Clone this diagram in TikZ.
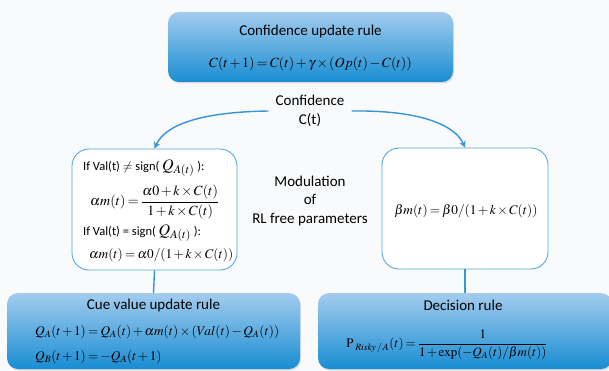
\documentclass[tikz,border=0pt]{standalone}
\usepackage{amsmath}
\usepackage{mathptmx}
\usepackage[no-math]{fontspec}
\setmainfont{Carlito}
\usetikzlibrary{arrows.meta,shadows}
\definecolor{bg}{RGB}{249,250,252}
\definecolor{btop}{RGB}{163,204,238}
\definecolor{bbot}{RGB}{24,141,211}
\definecolor{edge}{RGB}{86,168,222}
\definecolor{arr}{RGB}{52,150,213}
\medmuskip=2mu plus 1mu minus 1mu
\thickmuskip=3mu plus 1mu
\begin{document}
\begin{tikzpicture}[x=1pt,y=-1pt,
  bluebox/.style={rounded corners=11pt, top color=btop, bottom color=bbot, draw=none,
    drop shadow={opacity=0.25, shadow xshift=1pt, shadow yshift=-1.5pt}},
  whitebox/.style={rounded corners=17pt, fill=white, draw=edge, line width=0.9pt},
  title/.style={font=\fontsize{15}{18}\selectfont, inner sep=0pt},
  label/.style={font=\fontsize{12.5}{15}\selectfont, inner sep=0pt, anchor=west},
  eq/.style={font=\fontsize{14}{17}\selectfont, inner sep=0pt},
  eqs/.style={font=\fontsize{13.3}{16}\selectfont, inner sep=0pt},
  conn/.style={draw=arr, line width=1.4pt},
  arrowc/.style={conn, -{Stealth[length=6.5pt,width=6.5pt]}}
]
\useasboundingbox (0,0) rectangle (609,371);
\fill[bg] (0,0) rectangle (609,371);
\clip (0,0) rectangle (609,371);

% boxes
\node[bluebox, minimum width=285pt, minimum height=70pt] (top) at (310.5,47) {};
\node[whitebox, minimum width=165pt, minimum height=121pt] (lbox) at (154.5,209.5) {};
\node[whitebox, minimum width=166pt, minimum height=121pt] (rbox) at (465,208.5) {};
\node[bluebox, minimum width=293pt, minimum height=76pt] (cue) at (153.5,331) {};
\node[bluebox, minimum width=294pt, minimum height=76pt] (dec) at (465,331) {};

% top box text
\node[title] (toptitle) at (310.5,32) {Confidence update rule};
\node[eq] (topeq) at (310.5,64) {$C(t+1)=C(t)+\gamma\times(Op(t)-C(t))$};

% confidence label
\node[font=\fontsize{15}{18.5}\selectfont, align=center, inner xsep=7pt, inner ysep=0pt] (conf) at (310,111) {Confidence\\C(t)};

\draw[arrowc] (conf.west) .. controls (200,112) and (165,125) .. (lbox.north);
\draw[arrowc] (conf.east) .. controls (420,110) and (455,125) .. (rbox.north);

% modulation
\node[font=\fontsize{15}{18.5}\selectfont, align=center, inner sep=0pt] (mod) at (310,201) {Modulation\\of\\RL free parameters};

% left box text
\node[label] (l1) at (83,168) {If Val(t) $\neq$ sign( {\fontsize{16}{18}\selectfont$Q_{A(t)}$} ):};
\node[eq, anchor=west] (l2) at (90,202) {$\alpha m(t)=\dfrac{\alpha0+k\times C(t)}{1+k\times C(t)}$};
\node[label] (l3) at (83,233) {If Val(t) = sign( {\fontsize{16}{18}\selectfont$Q_{A(t)}$} ):};
\node[eqs, anchor=west] (l4) at (89,255) {$\alpha m(t)=\alpha0/(1+k\times C(t))$};

% right box text
\node[eqs] (r1) at (466,211) {$\beta m(t)=\beta0/(1+k\times C(t))$};

% connectors down
\draw[conn] (lbox.south) -- (cue.north);
\draw[conn] (rbox.south) -- (dec.north);

% cue box text
\node[title] (cuetitle) at (153.5,305) {Cue value update rule};
\node[eqs, anchor=west] (c1) at (35,332) {$Q_A(t+1)=Q_A(t)+\alpha m(t)\times(Val(t)-Q_A(t))$};
\node[eqs, anchor=west] (c2) at (35,357) {$Q_B(t+1)=-Q_A(t+1)$};

% decision box text
\node[title] (dectitle) at (463,305) {Decision rule};
\node[eq, font=\fontsize{13}{16}\selectfont] (d1) at (447,345) {$\mathrm{P}_{\;\mathit{Risky}\,/\,A}(t)=\dfrac{1}{1+\exp(-Q_A(t)/\beta m(t))}$};
\end{tikzpicture}
\end{document}
